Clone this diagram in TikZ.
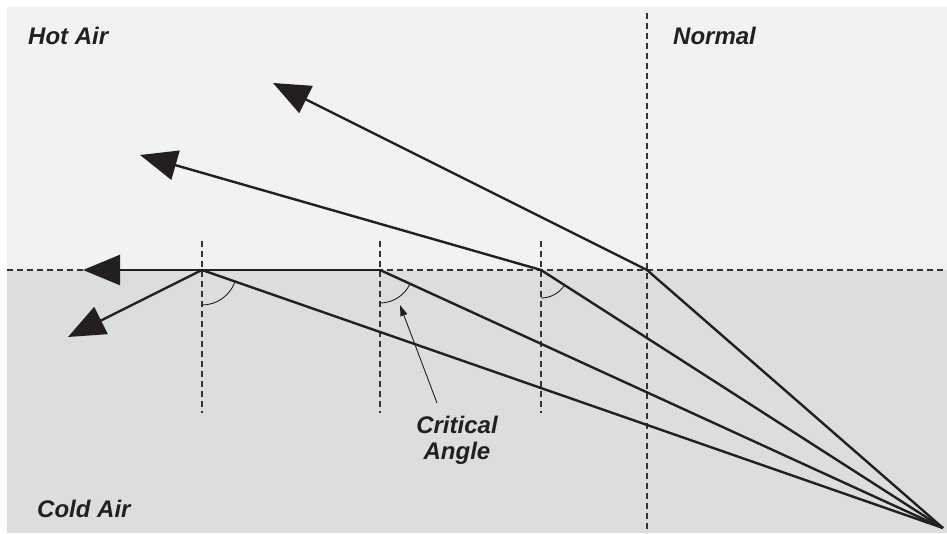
\documentclass[tikz,border=0pt]{standalone}
\usepackage{fontspec}
\setmainfont{Liberation Sans}
\usetikzlibrary{arrows.meta}
\definecolor{hotair}{HTML}{F1F2F4}
\definecolor{coldair}{HTML}{DCDDDF}
\definecolor{ink}{HTML}{231F20}
\definecolor{dashink}{HTML}{333333}
\tikzset{
  ray/.style={draw=ink, line width=2.4pt, line join=miter},
  rayarrow/.style={ray, -{Triangle[length=37pt,width=30pt]}},
  guide/.style={draw=dashink, line width=1.1pt, dash pattern=on 6pt off 4pt},
  anglearc/.style={draw=ink, line width=0.9pt},
  pointer/.style={draw=ink, line width=0.9pt, -{Triangle[length=11pt,width=7pt]}},
  label/.style={font=\fontsize{24}{26}\selectfont\bfseries\itshape, text=ink, inner sep=0pt},
}
\begin{document}
\begin{tikzpicture}[x=1pt,y=1pt]
\useasboundingbox (0,0) rectangle (947,533);
% backgrounds
\fill[coldair] (7,0) rectangle (947,263);
\fill[hotair] (7,263) rectangle (947,526);
% named points
\coordinate (S) at (943,5);
\coordinate (A1) at (647,263);
\coordinate (A2) at (541,263);
\coordinate (A3) at (380,263);
\coordinate (A4) at (202,263);
\coordinate (T1) at (273,450);
\coordinate (T2) at (140,378);
\coordinate (T3) at (83,263);
\coordinate (T4) at (68,196);
\coordinate (HL) at (7,263);
\coordinate (HR) at (947,263);
\coordinate (NT) at (647,520);
\coordinate (NB) at (647,0);
\coordinate (V4t) at (202,292); \coordinate (V4b) at (202,120);
\coordinate (V3t) at (380,292); \coordinate (V3b) at (380,120);
\coordinate (V2t) at (541,292); \coordinate (V2b) at (541,120);
% guide lines
\draw[guide] (HL) -- (HR);
\draw[guide] (NT) -- (NB);
\draw[guide] (V4t) -- (V4b);
\draw[guide] (V3t) -- (V3b);
\draw[guide] (V2t) -- (V2b);
% angle arcs
\draw[anglearc] ([shift={(270:35)}]A4) arc[start angle=270, end angle=340.8, radius=35];
\draw[anglearc] ([shift={(270:33)}]A3) arc[start angle=270, end angle=335.4, radius=33];
\draw[anglearc] ([shift={(270:28)}]A2) arc[start angle=270, end angle=327.3, radius=28];
% rays
\draw[ray] (S) -- (A1);
\draw[rayarrow] (A1) -- (T1);
\draw[ray] (S) -- (A2);
\draw[rayarrow] (A2) -- (T2);
\draw[ray] (S) -- (A3);
\draw[rayarrow] (A3) -- (T3);
\draw[ray] (S) -- (A4);
\draw[rayarrow] (A4) -- (T4);
% labels
\node[label, anchor=base west] (hot) at (28,488) {Hot Air};
\node[label, anchor=base west] (normal) at (673,488) {Normal};
\node[label, anchor=base west] (cold) at (37,16) {Cold Air};
\node[label, align=center, anchor=north] (crit) at (457,117) {Critical\\Angle};
\coordinate (CP) at (437,130);
\coordinate (CT) at (400,228);
\draw[pointer] (CP) -- (CT);
\end{tikzpicture}
\end{document}
